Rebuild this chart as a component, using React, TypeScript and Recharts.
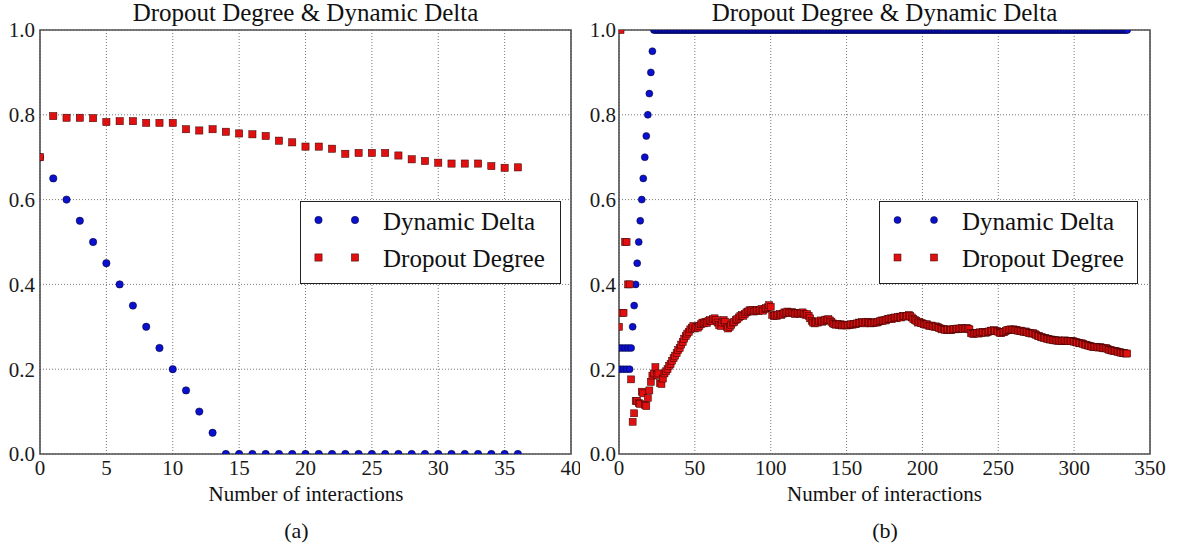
import React from 'react';
import { ScatterChart, Scatter, XAxis, YAxis, CartesianGrid, ReferenceArea, Legend } from 'recharts';

const FONT = '"Liberation Serif", "Times New Roman", serif';
const BLUE = '#0a10cc';
const RED = '#e01010';

// ---------- panel (a) ----------
const leftInteractions = [0, 1, 2, 3, 4, 5, 6, 7, 8, 9, 10, 11, 12, 13, 14, 15, 16, 17, 18, 19, 20, 21, 22, 23, 24, 25, 26, 27, 28, 29, 30, 31, 32, 33, 34, 35, 36];
const leftDynamicDelta = [0.7, 0.65, 0.6, 0.55, 0.5, 0.45, 0.4, 0.35, 0.3, 0.25, 0.2, 0.15, 0.1, 0.05, 0, 0, 0, 0, 0, 0, 0, 0, 0, 0, 0, 0, 0, 0, 0, 0, 0, 0, 0, 0, 0, 0, 0];
const leftDropoutDegree = [0.7, 0.797, 0.793, 0.793, 0.792, 0.783, 0.785, 0.785, 0.781, 0.781, 0.781, 0.766, 0.763, 0.766, 0.76, 0.756, 0.754, 0.75, 0.739, 0.735, 0.725, 0.725, 0.72, 0.708, 0.71, 0.71, 0.71, 0.704, 0.695, 0.691, 0.687, 0.685, 0.685, 0.685, 0.679, 0.675, 0.676];
const leftXTicks = [0, 5, 10, 15, 20, 25, 30, 35, 40];

// ---------- panel (b) ----------
const rightDynamicDelta = [
  0.25, 0.2, 0.25, 0.2, 0.25, 0.2, 0.25, 0.2, 0.25, 0.3, 0.35, 0.4, 0.45, 0.5, 0.55, 0.6, 0.65, 0.7, 0.75, 0.8, 0.85, 0.9, 0.95,
  1, 1, 1, 1, 1, 1, 1, 1, 1, 1, 1, 1, 1, 1, 1, 1, 1, 1, 1, 1,
  1, 1, 1, 1, 1, 1, 1, 1, 1, 1, 1, 1, 1, 1, 1, 1, 1, 1, 1, 1,
  1, 1, 1, 1, 1, 1, 1, 1, 1, 1, 1, 1, 1, 1, 1, 1, 1, 1, 1, 1,
  1, 1, 1, 1, 1, 1, 1, 1, 1, 1, 1, 1, 1, 1, 1, 1, 1, 1, 1, 1,
  1, 1, 1, 1, 1, 1, 1, 1, 1, 1, 1, 1, 1, 1, 1, 1, 1, 1, 1, 1,
  1, 1, 1, 1, 1, 1, 1, 1, 1, 1, 1, 1, 1, 1, 1, 1, 1, 1, 1, 1,
  1, 1, 1, 1, 1, 1, 1, 1, 1, 1, 1, 1, 1, 1, 1, 1, 1, 1, 1, 1,
  1, 1, 1, 1, 1, 1, 1, 1, 1, 1, 1, 1, 1, 1, 1, 1, 1, 1, 1, 1,
  1, 1, 1, 1, 1, 1, 1, 1, 1, 1, 1, 1, 1, 1, 1, 1, 1, 1, 1, 1,
  1, 1, 1, 1, 1, 1, 1, 1, 1, 1, 1, 1, 1, 1, 1, 1, 1, 1, 1, 1,
  1, 1, 1, 1, 1, 1, 1, 1, 1, 1, 1, 1, 1, 1, 1, 1, 1, 1, 1, 1,
  1, 1, 1, 1, 1, 1, 1, 1, 1, 1, 1, 1, 1, 1, 1, 1, 1, 1, 1, 1,
  1, 1, 1, 1, 1, 1, 1, 1, 1, 1, 1, 1, 1, 1, 1, 1, 1, 1, 1, 1,
  1, 1, 1, 1, 1, 1, 1, 1, 1, 1, 1, 1, 1, 1, 1, 1, 1, 1, 1, 1,
  1, 1, 1, 1, 1, 1, 1, 1, 1, 1, 1, 1, 1, 1, 1, 1, 1, 1, 1, 1,
  1, 1, 1, 1, 1, 1, 1, 1, 1, 1, 1, 1, 1,
];
const rightDropoutDegree = [
  0.30, 1.0, 0.333, 0.333, 0.5, 0.5, 0.4, 0.4, 0.176, 0.076,
  0.096, 0.125, 0.125, 0.12, 0.118, 0.147, 0.143, 0.116, 0.113, 0.132,
  0.15, 0.17, 0.185, 0.19, 0.205, 0.186, 0.19, 0.167, 0.165, 0.178,
  0.19, 0.195, 0.2, 0.208, 0.212, 0.22, 0.226, 0.232, 0.238, 0.245,
  0.25, 0.258, 0.264, 0.272, 0.278, 0.284, 0.288, 0.294, 0.298, 0.302,
  0.296, 0.3, 0.298, 0.302, 0.306, 0.31, 0.308, 0.312, 0.309, 0.314,
  0.316, 0.313, 0.318, 0.32, 0.316, 0.31, 0.304, 0.302, 0.31, 0.316,
  0.312, 0.3, 0.296, 0.3, 0.305, 0.31, 0.312, 0.316, 0.318, 0.322,
  0.325, 0.328, 0.326, 0.33, 0.334, 0.336, 0.339, 0.338, 0.34, 0.336,
  0.338, 0.34, 0.337, 0.34, 0.342, 0.338, 0.342, 0.344, 0.346, 0.351,
  0.347, 0.328, 0.325, 0.327, 0.326, 0.329, 0.33, 0.328, 0.331, 0.334,
  0.333, 0.336, 0.334, 0.332, 0.335, 0.332, 0.33, 0.333, 0.332, 0.33,
  0.333, 0.334, 0.331, 0.328, 0.33, 0.326, 0.32, 0.314, 0.31, 0.308,
  0.312, 0.31, 0.313, 0.315, 0.312, 0.314, 0.317, 0.316, 0.318, 0.315,
  0.312, 0.308, 0.306, 0.305, 0.307, 0.304, 0.306, 0.303, 0.305, 0.304,
  0.303, 0.305, 0.304, 0.306, 0.305, 0.307, 0.306, 0.308, 0.31, 0.309,
  0.311, 0.31, 0.308, 0.311, 0.312, 0.31, 0.308, 0.31, 0.309, 0.311,
  0.31, 0.312, 0.313, 0.315, 0.314, 0.316, 0.315, 0.318, 0.319, 0.32,
  0.318, 0.321, 0.322, 0.32, 0.323, 0.324, 0.322, 0.325, 0.326, 0.324,
  0.326, 0.328, 0.325, 0.322, 0.318, 0.316, 0.314, 0.31, 0.312, 0.309,
  0.308, 0.306, 0.305, 0.306, 0.303, 0.302, 0.303, 0.301, 0.3, 0.301,
  0.299, 0.297, 0.296, 0.294, 0.295, 0.293, 0.292, 0.294, 0.293, 0.292,
  0.294, 0.295, 0.294, 0.296, 0.295, 0.296, 0.297, 0.295, 0.296, 0.297,
  0.296, 0.294, 0.285, 0.284, 0.283, 0.286, 0.285, 0.284, 0.287, 0.286,
  0.288, 0.287, 0.286, 0.288, 0.289, 0.291, 0.29, 0.292, 0.291, 0.29,
  0.288, 0.286, 0.285, 0.287, 0.288, 0.29, 0.292, 0.293, 0.294, 0.293,
  0.294, 0.292, 0.293, 0.291, 0.29, 0.291, 0.289, 0.288, 0.289, 0.287,
  0.286, 0.285, 0.284, 0.285, 0.283, 0.281, 0.279, 0.278, 0.276, 0.275,
  0.274, 0.273, 0.272, 0.271, 0.27, 0.27, 0.269, 0.268, 0.268, 0.267,
  0.268, 0.267, 0.266, 0.267, 0.268, 0.267, 0.266, 0.267, 0.266, 0.266,
  0.265, 0.264, 0.263, 0.262, 0.261, 0.261, 0.26, 0.258, 0.257, 0.256,
  0.255, 0.254, 0.253, 0.252, 0.253, 0.252, 0.251, 0.252, 0.251, 0.25,
  0.249, 0.25, 0.248, 0.246, 0.245, 0.244, 0.243, 0.243, 0.242, 0.241,
  0.24, 0.239, 0.238, 0.238, 0.237, 0.237,
];
const rightXTicks = [0, 50, 100, 150, 200, 250, 300, 350];

const yTicks = [0, 0.2, 0.4, 0.6, 0.8, 1.0];
const seriesNames = ['Dynamic Delta', 'Dropout Degree'];
const panelTitle = 'Dropout Degree & Dynamic Delta';
const xLabel = 'Number of interactions';

const toPoints = (xs: number[], ys: number[]) => ys.map((y, i) => ({ x: xs[i], y }));
const indexPoints = (ys: number[]) => ys.map((y, i) => ({ x: i, y }));

const circleShape = (r: number) => (p: any) => (
  <circle cx={p.cx} cy={p.cy} r={r} fill={BLUE} stroke="#000022" strokeWidth={0.5} />
);
const squareShape = (s: number) => (p: any) => (
  <rect x={p.cx - s / 2} y={p.cy - s / 2} width={s} height={s} fill={RED} stroke="#300000" strokeWidth={0.5} />
);

const LegendBox = ({ width, r, s }: { width: number; r: number; s: number }) => (
  <svg width={width} height={83} style={{ display: 'block' }}>
    <rect x={0.5} y={0.5} width={width - 1} height={82} fill="#fff" stroke="#222" strokeWidth={1} />
    <circle cx={18.5} cy={19} r={r} fill={BLUE} stroke="#000022" strokeWidth={0.5} />
    <circle cx={55} cy={19} r={r} fill={BLUE} stroke="#000022" strokeWidth={0.5} />
    <text x={83} y={28.5} fontFamily={FONT} fontSize={25} fill="#111">{seriesNames[0]}</text>
    <rect x={18.5 - s / 2} y={56.5 - s / 2} width={s} height={s} fill={RED} stroke="#300000" strokeWidth={0.5} />
    <rect x={55 - s / 2} y={56.5 - s / 2} width={s} height={s} fill={RED} stroke="#300000" strokeWidth={0.5} />
    <text x={83} y={65.5} fontFamily={FONT} fontSize={25} fill="#111">{seriesNames[1]}</text>
  </svg>
);

const tickStyle = { fontFamily: FONT, fontSize: 21, fill: '#1a1a1a' };
const fmtY = (v: number) => v.toFixed(1);

type PanelProps = {
  width: number;
  marginRight: number;
  yAxisWidth: number;
  yTickMargin: number;
  xMax: number;
  xTicks: number[];
  delta: { x: number; y: number }[];
  dropout: { x: number; y: number }[];
  r: number;
  s: number;
  legendLeft: number;
  legendWidth: number;
};

const Panel = (p: PanelProps) => (
  <ScatterChart width={p.width} height={554} margin={{ top: 30, right: p.marginRight, bottom: 70, left: 0 }}>
    <CartesianGrid stroke="#555" strokeWidth={0.8} strokeDasharray="1 2" />
    <XAxis
      type="number"
      dataKey="x"
      domain={[0, p.xMax]}
      ticks={p.xTicks}
      interval={0}
      allowDataOverflow
      height={30}
      tickSize={0}
      tickMargin={6}
      axisLine={false}
      tickLine={false}
      tick={tickStyle}
    />
    <YAxis
      type="number"
      dataKey="y"
      domain={[0, 1]}
      ticks={yTicks}
      interval={0}
      allowDataOverflow
      width={p.yAxisWidth}
      tickSize={0}
      tickMargin={p.yTickMargin}
      axisLine={false}
      tickLine={false}
      tick={tickStyle}
      tickFormatter={fmtY}
    />
    <Scatter name={seriesNames[0]} data={p.delta} shape={circleShape(p.r)} isAnimationActive={false} />
    <Scatter name={seriesNames[1]} data={p.dropout} shape={squareShape(p.s)} isAnimationActive={false} />
    <ReferenceArea x1={0} x2={p.xMax} y1={0} y2={1} fill="none" fillOpacity={0} stroke="#505050" strokeWidth={1.6} />
    <Legend
      layout="vertical"
      align="center"
      verticalAlign="middle"
      wrapperStyle={{ left: p.legendLeft, top: 201, width: p.legendWidth, height: 83 }}
      content={() => <LegendBox width={p.legendWidth} r={p.r} s={p.s} />}
    />
  </ScatterChart>
);

export default function App() {
  return (
    <div style={{ position: 'absolute', left: 0, top: 0, width: 1177, height: 554, background: '#fff' }}>
      <div style={{ position: 'absolute', left: 0, top: 0 }}>
        <Panel
          width={580}
          marginRight={9}
          yAxisWidth={40}
          yTickMargin={5}
          xMax={40}
          xTicks={leftXTicks}
          delta={toPoints(leftInteractions, leftDynamicDelta)}
          dropout={toPoints(leftInteractions, leftDropoutDegree)}
          r={3.7}
          s={7.2}
          legendLeft={300}
          legendWidth={261}
        />
      </div>
      <div style={{ position: 'absolute', left: 580, top: 0 }}>
        <Panel
          width={597}
          marginRight={27}
          yAxisWidth={39}
          yTickMargin={3}
          xMax={350}
          xTicks={rightXTicks}
          delta={indexPoints(rightDynamicDelta)}
          dropout={indexPoints(rightDropoutDegree)}
          r={3.5}
          s={7}
          legendLeft={299}
          legendWidth={259}
        />
      </div>
      <svg width={1177} height={554} style={{ position: 'absolute', left: 0, top: 0, pointerEvents: 'none' }}>
        <g fontFamily={FONT} fill="#111" textAnchor="middle">
          <text x={305.5} y={21} fontSize={25}>{panelTitle}</text>
          <text x={884.5} y={21} fontSize={25}>{panelTitle}</text>
          <text x={306} y={501} fontSize={21}>{xLabel}</text>
          <text x={884.5} y={501} fontSize={21}>{xLabel}</text>
          <text x={296.5} y={538} fontSize={22}>(a)</text>
          <text x={885} y={538} fontSize={22}>(b)</text>
        </g>
      </svg>
    </div>
  );
}
